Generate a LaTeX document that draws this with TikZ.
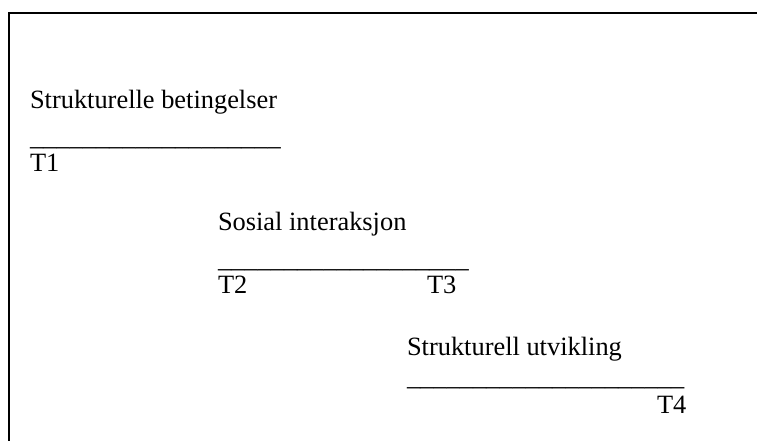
\documentclass[tikz,border=0pt]{standalone}
\usepackage{fontspec}
\setmainfont{Liberation Serif}
\begin{document}
\begin{tikzpicture}[x={(1pt,0)},y={(0,-1pt)},
  lbl/.style={anchor=base west,inner sep=0pt,outer sep=0pt,font=\fontsize{26.4pt}{30pt}\selectfont},
  frameline/.style={line width=2pt,black}]
\useasboundingbox (0,0) rectangle (757,441);
\coordinate (tl) at (9,13);
\coordinate (tr) at (760,13);
\coordinate (bl) at (9,444);
\draw[frameline] (tr) -- (tl) -- (bl);
% block 1
\node[lbl] (sb) at (30,109) {Strukturelle betingelser};
\node[lbl] (u1) at (30,145.5) {\_\_\_\_\_\_\_\_\_\_\_\_\_\_\_\_\_\_\_};
\node[lbl] (t1) at (30,171) {T1};
% block 2
\node[lbl] (si) at (218,230) {Sosial interaksjon};
\node[lbl] (u2) at (218,267.5) {\_\_\_\_\_\_\_\_\_\_\_\_\_\_\_\_\_\_\_};
\node[lbl] (t2) at (218,293) {T2};
\node[lbl] (t3) at (427,293) {T3};
% block 3
\node[lbl] (su) at (407,355) {Strukturell utvikling};
\node[lbl] (u3) at (407,385.5) {\_\_\_\_\_\_\_\_\_\_\_\_\_\_\_\_\_\_\_\_\_};
\node[lbl] (t4) at (657,413) {T4};
\end{tikzpicture}
\end{document}
